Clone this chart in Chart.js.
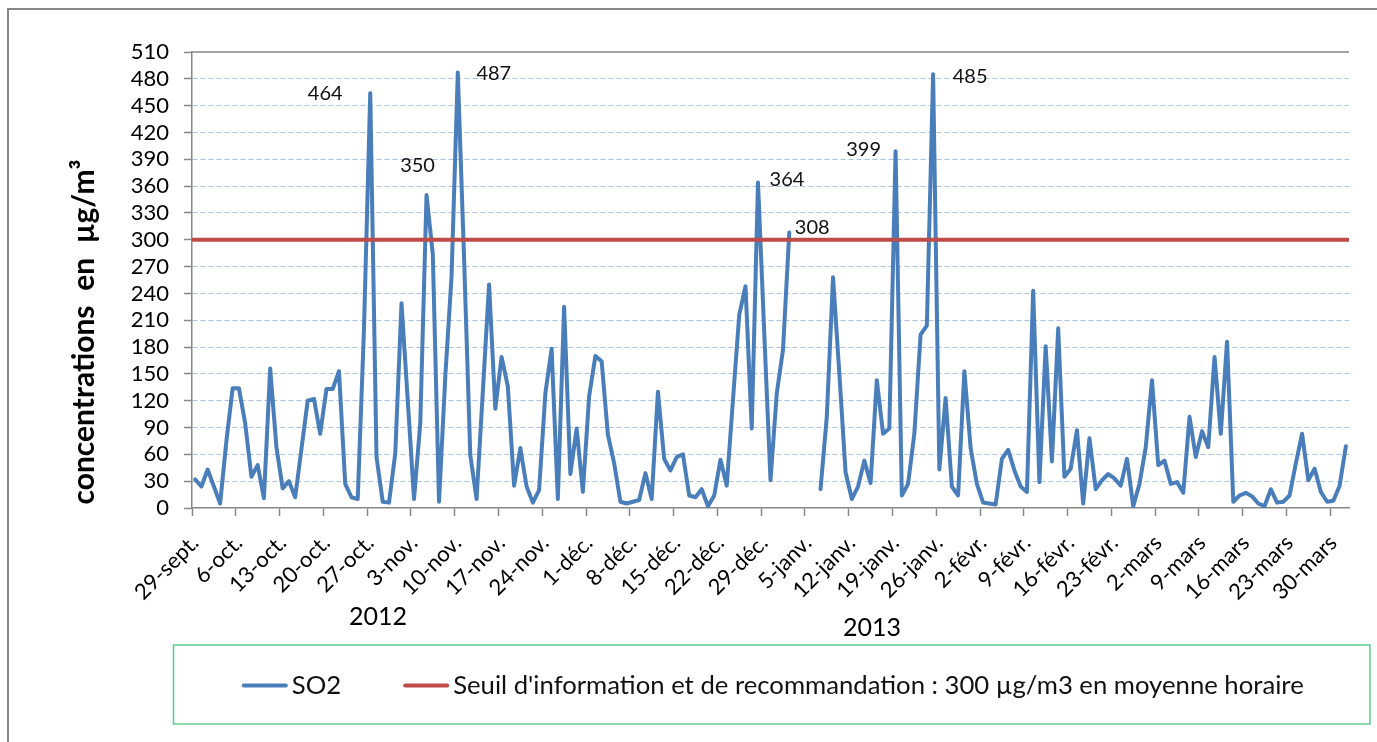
<!DOCTYPE html>
<html lang="fr">
<head>
<meta charset="utf-8">
<title>SO2 - concentrations journalières</title>
<script src="https://cdn.jsdelivr.net/npm/chart.js@4.4.0/dist/chart.umd.min.js"></script>
<style>
  html, body { margin: 0; padding: 0; background: #fff; }
  canvas { display: block; }
</style>
</head>
<body>
<canvas id="so2Chart" width="1377" height="742"></canvas>
<script>
// one value per day, from 29 sept. 2012 to 1 avril 2013 (null = no measure)
const so2Values = [
  32, 24, 43, 24, 5, 75, 134, 134, 95, 35, 48, 11, 156, 68, 22, 30, 12, 66, 120, 122,
  83, 133, 133, 153, 27, 12, 10, 200, 464, 57, 7, 6, 61, 229, 120, 10, 95, 350, 284, 7,
  147, 259, 487, 280, 59, 10, 130, 250, 111, 169, 136, 25, 67, 24, 6, 20, 128, 178, 10, 225,
  38, 89, 18, 125, 170, 164, 82, 50, 7, 5, 7, 9, 39, 10, 130, 55, 42, 57, 60, 14,
  12, 21, 2, 14, 54, 25, 121, 216, 248, 89, 364, 196, 31, 128, 177, 308, null, null, null, null,
  21, 102, 258, 151, 40, 10, 24, 53, 28, 143, 83, 89, 399, 14, 27, 83, 194, 204, 485, 43,
  123, 24, 14, 153, 67, 27, 6, 5, 4, 55, 65, 42, 24, 18, 243, 29, 181, 52, 201, 35,
  44, 87, 5, 78, 21, 31, 38, 33, 25, 55, 2, 27, 68, 143, 48, 53, 27, 29, 17, 102,
  57, 86, 68, 169, 83, 186, 7, 14, 17, 13, 5, 2, 21, 6, 7, 14, 50, 83, 31, 44,
  18, 7, 8, 25, 69
];

// weekly tick labels (one every 7 days)
const weekLabels = [
  '29-sept.', '6-oct.', '13-oct.', '20-oct.', '27-oct.', '3-nov.', '10-nov.', '17-nov.',
  '24-nov.', '1-déc.', '8-déc.', '15-déc.', '22-déc.', '29-déc.', '5-janv.', '12-janv.',
  '19-janv.', '26-janv.', '2-févr.', '9-févr.', '16-févr.', '23-févr.', '2-mars', '9-mars',
  '16-mars', '23-mars', '30-mars'
];

const threshold = 300;
const yTicks = { min: 0, max: 510, step: 30 };

// days whose value is written next to the peak
const labelledDays = [28, 37, 42, 90, 95, 112, 118];
const labelOffsets = [[-45, 0], [-9, -30], [36, 1], [29, -3], [23, -5], [-32, -2], [37, 2]];

const yearLabels = ['2012', '2013'];

const FONT = 'Lato, "Open Sans", sans-serif';
const GRAY = '#878787';

const firstDay = -0.5;
const lastDay = so2Values.length - 0.5;

const extras = {
    id: 'extras',
    beforeDraw(chart) {
        const ctx = chart.ctx;
        ctx.save();
        ctx.fillStyle = '#fff';
        ctx.fillRect(0, 0, chart.width, chart.height);
        ctx.strokeStyle = GRAY;
        ctx.lineWidth = 2;
        ctx.strokeRect(8, 9, chart.width + 40, chart.height + 40);
        ctx.restore();
    },
    afterDatasetsDraw(chart) {
        const { ctx, scales: { x, y } } = chart;
        ctx.save();
        ctx.font = '20px ' + FONT;
        ctx.fillStyle = '#111';
        ctx.textAlign = 'center';
        ctx.textBaseline = 'middle';
        labelledDays.forEach((day, i) => {
            const v = so2Values[day];
            ctx.fillText(String(v), x.getPixelForValue(day) + labelOffsets[i][0], y.getPixelForValue(v) + labelOffsets[i][1]);
        });
        ctx.restore();
    },
    afterDraw(chart) {
        const { ctx, chartArea: area } = chart;
        ctx.save();

        // top edge of the plot
        ctx.strokeStyle = GRAY;
        ctx.lineWidth = 1.5;
        ctx.beginPath();
        ctx.moveTo(area.left, area.top);
        ctx.lineTo(area.right, area.top);
        ctx.stroke();

        // y title
        ctx.save();
        ctx.translate(84, 332);
        ctx.rotate(-Math.PI / 2);
        ctx.font = 'bold 30px ' + FONT;
        ctx.fillStyle = '#000';
        ctx.textAlign = 'center';
        ctx.textBaseline = 'middle';
        ctx.fillText('concentrations  en  µg/m³', 0, 0);
        ctx.restore();

        // year text boxes under the axis
        ctx.font = '25px ' + FONT;
        ctx.fillStyle = '#000';
        ctx.textAlign = 'center';
        ctx.textBaseline = 'middle';
        ctx.fillText(yearLabels[0], 378, 617);
        ctx.fillText(yearLabels[1], 872, 628);

        // legend
        const box = { x: 173.5, y: 645, w: 1196.5, h: 79 };
        ctx.strokeStyle = '#5ccb8d';
        ctx.lineWidth = 1.5;
        ctx.strokeRect(box.x, box.y, box.w, box.h);

        const items = [chart.data.datasets[1], chart.data.datasets[0]];
        const sample = 46, gap = 4, spacing = 62;
        ctx.font = '25.7px ' + FONT;
        const widths = items.map(ds => sample + gap + ctx.measureText(ds.label).width);
        const total = widths.reduce((a, b) => a + b, 0) + spacing * (items.length - 1);
        let cx = box.x + box.w / 2 - total / 2 + 1;
        const cy = box.y + box.h / 2 + 1;
        ctx.textAlign = 'left';
        items.forEach((ds, i) => {
            ctx.strokeStyle = ds.borderColor;
            ctx.lineWidth = 4;
            ctx.lineCap = 'round';
            ctx.beginPath();
            ctx.moveTo(cx + 2, cy);
            ctx.lineTo(cx + sample - 2, cy);
            ctx.stroke();
            ctx.fillStyle = '#111';
            ctx.fillText(ds.label, cx + sample + gap, cy);
            cx += widths[i] + spacing;
        });

        ctx.restore();
    }
};

function drawChart() {
    const ctx = document.getElementById('so2Chart').getContext('2d');
    new Chart(ctx, {
        type: 'line',
        data: {
            datasets: [
                {
                    label: "Seuil d'information et de recommandation : " + threshold + ' µg/m3 en moyenne horaire',
                    data: [{ x: firstDay, y: threshold }, { x: lastDay, y: threshold }],
                    borderColor: '#be4b48',
                    borderWidth: 4,
                    pointRadius: 0,
                    order: 0
                },
                {
                    label: 'SO2',
                    data: so2Values.map((v, i) => ({ x: i, y: v })),
                    borderColor: '#4a7ebb',
                    borderWidth: 4,
                    borderJoinStyle: 'round',
                    borderCapStyle: 'round',
                    pointRadius: 0,
                    spanGaps: false,
                    order: 1
                }
            ]
        },
        options: {
            responsive: false,
            animation: false,
            layout: { padding: { left: 0, right: 28, top: 52, bottom: 0 } },
            plugins: {
                legend: { display: false },
                tooltip: { enabled: false }
            },
            scales: {
                x: {
                    type: 'linear',
                    min: firstDay,
                    max: lastDay,
                    afterBuildTicks: scale => {
                        scale.ticks = weekLabels.map((_, k) => ({ value: firstDay + k * 7 }));
                    },
                    afterFit: scale => { scale.height = 234; },
                    ticks: {
                        autoSkip: false,
                        minRotation: 45,
                        maxRotation: 45,
                        padding: 14,
                        labelOffset: 3,
                        color: '#000',
                        font: { family: FONT, size: 22 },
                        callback: (value, index) => weekLabels[index]
                    },
                    grid: {
                        drawOnChartArea: false,
                        drawTicks: true,
                        tickLength: 8,
                        tickColor: GRAY,
                        tickWidth: 1.5
                    },
                    border: { color: GRAY, width: 1.5 }
                },
                y: {
                    min: yTicks.min,
                    max: yTicks.max,
                    afterFit: scale => { scale.width = 192; },
                    ticks: {
                        stepSize: yTicks.step,
                        autoSkip: false,
                        padding: 15,
                        color: '#000',
                        font: { family: FONT, size: 22 }
                    },
                    grid: {
                        color: c => (c.tick && (c.tick.value === yTicks.min || c.tick.value === yTicks.max)) ? 'transparent' : '#a9c2e4',
                        lineWidth: 1,
                        tickLength: 8,
                        tickColor: GRAY,
                        tickWidth: 1.5
                    },
                    border: { color: GRAY, width: 1.5, dash: [5, 3] }
                }
            }
        },
        plugins: [extras]
    });
}

if (document.fonts && document.fonts.load) {
    Promise.all([
        document.fonts.load('22px Lato'),
        document.fonts.load('bold 30px Lato')
    ]).then(drawChart, drawChart);
} else {
    drawChart();
}
</script>
</body>
</html>
